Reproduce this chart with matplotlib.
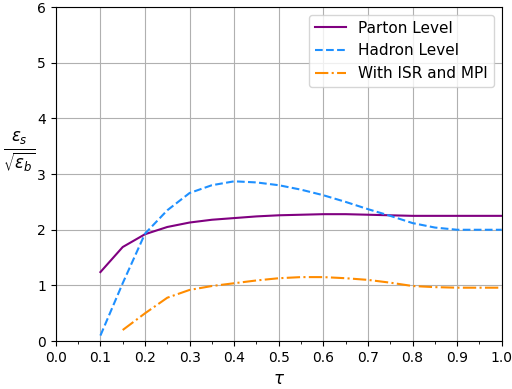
import matplotlib
matplotlib.use("Agg")
import matplotlib.pyplot as plt
from matplotlib.ticker import MultipleLocator

# valores
tau = [0.10, 0.15, 0.20, 0.25, 0.30, 0.35, 0.40, 0.45, 0.50, 0.55, 0.60, 0.65, 0.70, 0.75, 0.80, 0.85, 0.90, 0.95, 1.00]
parton = [1.24, 1.69, 1.92, 2.05, 2.13, 2.18, 2.21, 2.24, 2.26, 2.27, 2.28, 2.28, 2.27, 2.26, 2.25, 2.25, 2.25, 2.25, 2.25]
hadron = [0.10, 1.04, 1.93, 2.35, 2.66, 2.80, 2.87, 2.85, 2.80, 2.72, 2.62, 2.50, 2.37, 2.25, 2.12, 2.04, 2.00, 2.00, 2.00]
tau_isr = tau[1:]
isr = [0.20, 0.50, 0.78, 0.92, 0.99, 1.04, 1.09, 1.13, 1.15, 1.15, 1.13, 1.10, 1.05, 0.99, 0.97, 0.96, 0.96, 0.96]

fig = plt.figure(figsize=(5.12, 3.89), dpi=100)
ax = fig.add_axes([0.109, 0.123, 0.871, 0.859])

ax.plot(tau, parton, color='purple', linestyle='-', label='Parton Level')
ax.plot(tau, hadron, color='dodgerblue', linestyle='--', label='Hadron Level')
ax.plot(tau_isr, isr, color='darkorange', linestyle='-.', label='With ISR and MPI')

ax.set_xlim(0, 1)
ax.set_ylim(0, 6)
ax.xaxis.set_major_locator(MultipleLocator(0.1))
ax.xaxis.set_minor_locator(MultipleLocator(0.05))
ax.yaxis.set_major_locator(MultipleLocator(1))
ax.grid(True, which='major', color='#b0b0b0', linewidth=0.8)
ax.set_xlabel(r'$\tau$', fontsize=12)
ax.set_ylabel(r'$\frac{\epsilon_s}{\sqrt{\epsilon_b}}$', fontsize=17, rotation=0)
ax.yaxis.set_label_coords(-0.082, 0.50)
ax.legend(loc='upper right', fontsize=11)

fig.savefig('out.png', dpi=100)
